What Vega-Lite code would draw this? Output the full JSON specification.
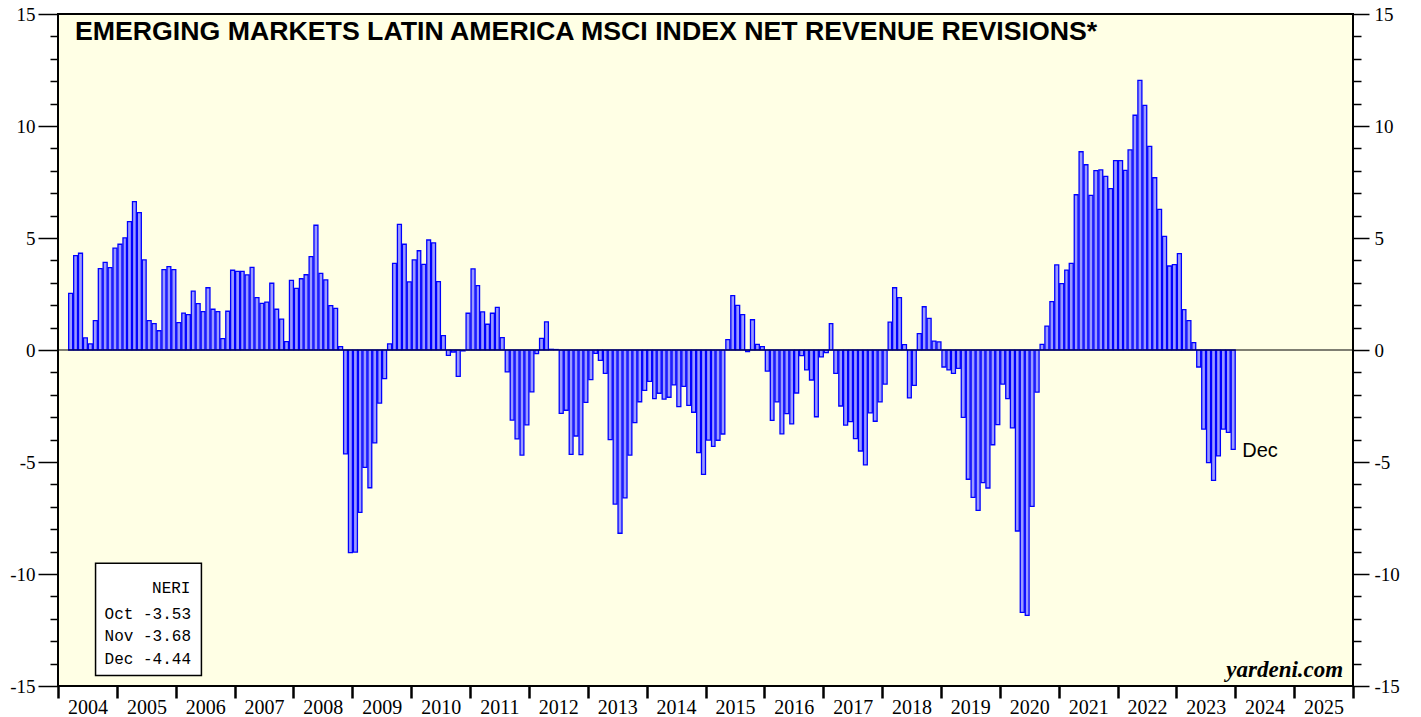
{
  "$schema": "https://vega.github.io/schema/vega-lite/v6.json",
  "width": 1295,
  "height": 672,
  "autosize": "none",
  "padding": {"left": 58, "top": 14, "right": 68, "bottom": 31},
  "background": "white",
  "config": {
    "view": {"fill": "#FFFFE5", "stroke": "black", "strokeWidth": 2},
    "axis": {"grid": false, "domain": false, "labelFont": "Liberation Serif", "labelColor": "black", "tickColor": "black", "title": null, "labelOverlap": false, "labelFlush": false}
  },
  "title": {
    "text": "EMERGING MARKETS LATIN AMERICA MSCI INDEX NET REVENUE REVISIONS*",
    "anchor": "start",
    "frame": "group",
    "orient": "top",
    "font": "Liberation Sans",
    "fontSize": 26.7,
    "fontWeight": "bold",
    "color": "black",
    "baseline": "alphabetic",
    "offset": -28,
    "dx": 17,
    "dy": 34
  },
  "data": {"values": [
    {"d":"2004-03-01","v":2.53},{"d":"2004-04-01","v":4.21},{"d":"2004-05-01","v":4.32},{"d":"2004-06-01","v":0.54},{"d":"2004-07-01","v":0.27},{"d":"2004-08-01","v":1.31},{"d":"2004-09-01","v":3.63},{"d":"2004-10-01","v":3.91},{"d":"2004-11-01","v":3.68},{"d":"2004-12-01","v":4.55},
    {"d":"2005-01-01","v":4.72},{"d":"2005-02-01","v":5.01},{"d":"2005-03-01","v":5.73},{"d":"2005-04-01","v":6.62},{"d":"2005-05-01","v":6.13},{"d":"2005-06-01","v":4.02},{"d":"2005-07-01","v":1.31},{"d":"2005-08-01","v":1.18},{"d":"2005-09-01","v":0.86},{"d":"2005-10-01","v":3.59},{"d":"2005-11-01","v":3.72},{"d":"2005-12-01","v":3.59},
    {"d":"2006-01-01","v":1.22},{"d":"2006-02-01","v":1.65},{"d":"2006-03-01","v":1.58},{"d":"2006-04-01","v":2.63},{"d":"2006-05-01","v":2.07},{"d":"2006-06-01","v":1.71},{"d":"2006-07-01","v":2.78},{"d":"2006-08-01","v":1.82},{"d":"2006-09-01","v":1.71},{"d":"2006-10-01","v":0.51},{"d":"2006-11-01","v":1.73},{"d":"2006-12-01","v":3.56},
    {"d":"2007-01-01","v":3.51},{"d":"2007-02-01","v":3.51},{"d":"2007-03-01","v":3.35},{"d":"2007-04-01","v":3.69},{"d":"2007-05-01","v":2.34},{"d":"2007-06-01","v":2.08},{"d":"2007-07-01","v":2.14},{"d":"2007-08-01","v":2.98},{"d":"2007-09-01","v":1.82},{"d":"2007-10-01","v":1.38},{"d":"2007-11-01","v":0.37},{"d":"2007-12-01","v":3.11},
    {"d":"2008-01-01","v":2.75},{"d":"2008-02-01","v":3.18},{"d":"2008-03-01","v":3.36},{"d":"2008-04-01","v":4.17},{"d":"2008-05-01","v":5.57},{"d":"2008-06-01","v":3.42},{"d":"2008-07-01","v":3.13},{"d":"2008-08-01","v":1.98},{"d":"2008-09-01","v":1.86},{"d":"2008-10-01","v":0.15},{"d":"2008-11-01","v":-4.64},{"d":"2008-12-01","v":-9.05},
    {"d":"2009-01-01","v":-9.02},{"d":"2009-02-01","v":-7.25},{"d":"2009-03-01","v":-5.24},{"d":"2009-04-01","v":-6.15},{"d":"2009-05-01","v":-4.15},{"d":"2009-06-01","v":-2.37},{"d":"2009-07-01","v":-1.28},{"d":"2009-08-01","v":0.27},{"d":"2009-09-01","v":3.87},{"d":"2009-10-01","v":5.61},{"d":"2009-11-01","v":4.72},{"d":"2009-12-01","v":3.04},
    {"d":"2010-01-01","v":4.02},{"d":"2010-02-01","v":4.43},{"d":"2010-03-01","v":3.82},{"d":"2010-04-01","v":4.91},{"d":"2010-05-01","v":4.78},{"d":"2010-06-01","v":3.05},{"d":"2010-07-01","v":0.64},{"d":"2010-08-01","v":-0.24},{"d":"2010-09-01","v":-0.09},{"d":"2010-10-01","v":-1.18},{"d":"2010-11-01","v":-0.04},{"d":"2010-12-01","v":1.64},
    {"d":"2011-01-01","v":3.62},{"d":"2011-02-01","v":2.87},{"d":"2011-03-01","v":1.70},{"d":"2011-04-01","v":1.15},{"d":"2011-05-01","v":1.64},{"d":"2011-06-01","v":1.90},{"d":"2011-07-01","v":0.55},{"d":"2011-08-01","v":-0.98},{"d":"2011-09-01","v":-3.13},{"d":"2011-10-01","v":-3.97},{"d":"2011-11-01","v":-4.69},{"d":"2011-12-01","v":-3.34},
    {"d":"2012-01-01","v":-1.87},{"d":"2012-02-01","v":-0.16},{"d":"2012-03-01","v":0.52},{"d":"2012-04-01","v":1.26},{"d":"2012-05-01","v":0.03},{"d":"2012-06-01","v":0.02},{"d":"2012-07-01","v":-2.83},{"d":"2012-08-01","v":-2.69},{"d":"2012-09-01","v":-4.66},{"d":"2012-10-01","v":-3.84},{"d":"2012-11-01","v":-4.67},{"d":"2012-12-01","v":-2.34},
    {"d":"2013-01-01","v":-1.32},{"d":"2013-02-01","v":-0.15},{"d":"2013-03-01","v":-0.46},{"d":"2013-04-01","v":-1.04},{"d":"2013-05-01","v":-4.00},{"d":"2013-06-01","v":-6.88},{"d":"2013-07-01","v":-8.18},{"d":"2013-08-01","v":-6.60},{"d":"2013-09-01","v":-4.69},{"d":"2013-10-01","v":-3.24},{"d":"2013-11-01","v":-2.31},{"d":"2013-12-01","v":-1.80},
    {"d":"2014-01-01","v":-1.40},{"d":"2014-02-01","v":-2.17},{"d":"2014-03-01","v":-1.93},{"d":"2014-04-01","v":-2.19},{"d":"2014-05-01","v":-2.11},{"d":"2014-06-01","v":-1.56},{"d":"2014-07-01","v":-2.53},{"d":"2014-08-01","v":-1.62},{"d":"2014-09-01","v":-2.47},{"d":"2014-10-01","v":-2.78},{"d":"2014-11-01","v":-4.58},{"d":"2014-12-01","v":-5.55},
    {"d":"2015-01-01","v":-4.02},{"d":"2015-02-01","v":-4.30},{"d":"2015-03-01","v":-4.03},{"d":"2015-04-01","v":-3.75},{"d":"2015-05-01","v":0.46},{"d":"2015-06-01","v":2.43},{"d":"2015-07-01","v":1.99},{"d":"2015-08-01","v":1.58},{"d":"2015-09-01","v":-0.07},{"d":"2015-10-01","v":1.35},{"d":"2015-11-01","v":0.25},{"d":"2015-12-01","v":0.15},
    {"d":"2016-01-01","v":-0.94},{"d":"2016-02-01","v":-3.14},{"d":"2016-03-01","v":-2.32},{"d":"2016-04-01","v":-3.74},{"d":"2016-05-01","v":-2.84},{"d":"2016-06-01","v":-3.30},{"d":"2016-07-01","v":-1.92},{"d":"2016-08-01","v":-0.25},{"d":"2016-09-01","v":-0.89},{"d":"2016-10-01","v":-1.34},{"d":"2016-11-01","v":-2.98},{"d":"2016-12-01","v":-0.31},
    {"d":"2017-01-01","v":-0.12},{"d":"2017-02-01","v":1.18},{"d":"2017-03-01","v":-1.04},{"d":"2017-04-01","v":-2.50},{"d":"2017-05-01","v":-3.35},{"d":"2017-06-01","v":-3.20},{"d":"2017-07-01","v":-3.96},{"d":"2017-08-01","v":-4.51},{"d":"2017-09-01","v":-5.13},{"d":"2017-10-01","v":-2.81},{"d":"2017-11-01","v":-3.18},{"d":"2017-12-01","v":-2.32},
    {"d":"2018-01-01","v":-1.52},{"d":"2018-02-01","v":1.24},{"d":"2018-03-01","v":2.78},{"d":"2018-04-01","v":2.34},{"d":"2018-05-01","v":0.24},{"d":"2018-06-01","v":-2.14},{"d":"2018-07-01","v":-1.58},{"d":"2018-08-01","v":0.73},{"d":"2018-09-01","v":1.93},{"d":"2018-10-01","v":1.41},{"d":"2018-11-01","v":0.40},{"d":"2018-12-01","v":0.36},
    {"d":"2019-01-01","v":-0.76},{"d":"2019-02-01","v":-0.89},{"d":"2019-03-01","v":-1.04},{"d":"2019-04-01","v":-0.82},{"d":"2019-05-01","v":-3.01},{"d":"2019-06-01","v":-5.77},{"d":"2019-07-01","v":-6.58},{"d":"2019-08-01","v":-7.16},{"d":"2019-09-01","v":-5.92},{"d":"2019-10-01","v":-6.16},{"d":"2019-11-01","v":-4.23},{"d":"2019-12-01","v":-3.33},
    {"d":"2020-01-01","v":-1.52},{"d":"2020-02-01","v":-2.17},{"d":"2020-03-01","v":-3.48},{"d":"2020-04-01","v":-8.08},{"d":"2020-05-01","v":-11.71},{"d":"2020-06-01","v":-11.85},{"d":"2020-07-01","v":-6.98},{"d":"2020-08-01","v":-1.88},{"d":"2020-09-01","v":0.25},{"d":"2020-10-01","v":1.07},{"d":"2020-11-01","v":2.16},{"d":"2020-12-01","v":3.80},
    {"d":"2021-01-01","v":2.96},{"d":"2021-02-01","v":3.57},{"d":"2021-03-01","v":3.87},{"d":"2021-04-01","v":6.93},{"d":"2021-05-01","v":8.85},{"d":"2021-06-01","v":8.27},{"d":"2021-07-01","v":6.90},{"d":"2021-08-01","v":8.01},{"d":"2021-09-01","v":8.04},{"d":"2021-10-01","v":7.75},{"d":"2021-11-01","v":7.20},{"d":"2021-12-01","v":8.45},
    {"d":"2022-01-01","v":8.45},{"d":"2022-02-01","v":8.02},{"d":"2022-03-01","v":8.93},{"d":"2022-04-01","v":10.48},{"d":"2022-05-01","v":12.04},{"d":"2022-06-01","v":10.92},{"d":"2022-07-01","v":9.09},{"d":"2022-08-01","v":7.69},{"d":"2022-09-01","v":6.28},{"d":"2022-10-01","v":5.07},{"d":"2022-11-01","v":3.75},{"d":"2022-12-01","v":3.81},
    {"d":"2023-01-01","v":4.30},{"d":"2023-02-01","v":1.80},{"d":"2023-03-01","v":1.31},{"d":"2023-04-01","v":0.33},{"d":"2023-05-01","v":-0.76},{"d":"2023-06-01","v":-3.53},{"d":"2023-07-01","v":-5.03},{"d":"2023-08-01","v":-5.82},{"d":"2023-09-01","v":-4.73},{"d":"2023-10-01","v":-3.53},{"d":"2023-11-01","v":-3.68},{"d":"2023-12-01","v":-4.44}
  ]},
  "layer": [
    {
      "mark": {"type": "bar", "fill": "#9A9AFF", "stroke": "#0000FF", "strokeWidth": 1.3, "timeUnitBandSize": 1, "timeUnitBandPosition": 0},
      "encoding": {
        "x": {
          "field": "d", "timeUnit": "utcyearmonth", "type": "temporal",
          "scale": {"type": "utc", "domain": [{"year": 2004, "month": 1, "date": 1, "utc": true}, {"year": 2026, "month": 1, "date": 1, "utc": true}]},
          "axis": {
            "orient": "bottom",
            "values": [
              {"year": 2004, "month": 1, "date": 1, "utc": true},{"year": 2005, "month": 1, "date": 1, "utc": true},{"year": 2006, "month": 1, "date": 1, "utc": true},{"year": 2007, "month": 1, "date": 1, "utc": true},{"year": 2008, "month": 1, "date": 1, "utc": true},{"year": 2009, "month": 1, "date": 1, "utc": true},{"year": 2010, "month": 1, "date": 1, "utc": true},{"year": 2011, "month": 1, "date": 1, "utc": true},{"year": 2012, "month": 1, "date": 1, "utc": true},{"year": 2013, "month": 1, "date": 1, "utc": true},{"year": 2014, "month": 1, "date": 1, "utc": true},{"year": 2015, "month": 1, "date": 1, "utc": true},{"year": 2016, "month": 1, "date": 1, "utc": true},{"year": 2017, "month": 1, "date": 1, "utc": true},{"year": 2018, "month": 1, "date": 1, "utc": true},{"year": 2019, "month": 1, "date": 1, "utc": true},{"year": 2020, "month": 1, "date": 1, "utc": true},{"year": 2021, "month": 1, "date": 1, "utc": true},{"year": 2022, "month": 1, "date": 1, "utc": true},{"year": 2023, "month": 1, "date": 1, "utc": true},{"year": 2024, "month": 1, "date": 1, "utc": true},{"year": 2025, "month": 1, "date": 1, "utc": true},{"year": 2026, "month": 1, "date": 1, "utc": true}
            ],
            "labelExpr": "utcyear(datum.value) > 2025 ? '' : '' + utcyear(datum.value)",
            "labelOffset": 29.4,
            "labelAlign": "center",
            "labelBound": false,
            "labelFontSize": 20,
            "labelPadding": -1,
            "tickSize": 12,
            "tickWidth": 2.5
          }
        },
        "y": {
          "field": "v", "type": "quantitative",
          "scale": {"domain": [-15, 15], "nice": false, "zero": false},
          "axis": {
            "orient": "left",
            "values": [-15,-14,-13,-12,-11,-10,-9,-8,-7,-6,-5,-4,-3,-2,-1,0,1,2,3,4,5,6,7,8,9,10,11,12,13,14,15],
            "labelExpr": "datum.value % 5 == 0 ? '' + datum.value : ''",
            "tickSize": {"condition": {"test": "datum.value % 5 == 0", "value": 20}, "value": 8},
            "tickWidth": 1.5,
            "labelFontSize": 19,
            "labelPadding": 3,
            "labelOverlap": false
          }
        }
      }
    },
    {
      "transform": [{"filter": "utcyear(datum.d) == 2023 && utcmonth(datum.d) == 11"}],
      "mark": {"type": "text", "font": "Liberation Sans", "fontSize": 20, "color": "black", "align": "left", "baseline": "alphabetic", "dx": 12, "dy": 8},
      "encoding": {
        "x": {"field": "d", "type": "temporal"},
        "y": {"field": "v", "type": "quantitative", "scale": {"domain": [-15, 15], "nice": false, "zero": false}, "axis": null},
        "text": {"value": "Dec"}
      }
    },
    {
      "data": {"values": [{}]},
      "mark": {"type": "rect", "fill": "white", "stroke": "black", "strokeWidth": 1.5},
      "encoding": {
        "x": {"datum": {"year": 2004, "month": 8, "date": 21, "utc": true}, "type": "temporal"},
        "x2": {"datum": {"year": 2006, "month": 6, "date": 9, "utc": true}},
        "y": {"datum": -9.52, "type": "quantitative", "scale": {"domain": [-15, 15], "nice": false, "zero": false}, "axis": null},
        "y2": {"datum": -14.53}
      }
    },
    {
      "data": {"values": [{}]},
      "mark": {"type": "text", "font": "Liberation Mono", "fontSize": 16, "color": "black", "align": "right", "baseline": "alphabetic"},
      "encoding": {
        "x": {"datum": {"year": 2006, "month": 4, "date": 2, "utc": true}, "type": "temporal"},
        "y": {"datum": -10.83, "type": "quantitative", "scale": {"domain": [-15, 15], "nice": false, "zero": false}, "axis": null},
        "text": {"value": "NERI"}
      }
    },
    {
      "data": {"values": [{}]},
      "mark": {"type": "text", "font": "Liberation Mono", "fontSize": 16, "color": "black", "align": "left", "baseline": "alphabetic", "lineHeight": 22.5},
      "encoding": {
        "x": {"datum": {"year": 2004, "month": 10, "date": 16, "utc": true}, "type": "temporal"},
        "y": {"datum": -11.99, "type": "quantitative", "scale": {"domain": [-15, 15], "nice": false, "zero": false}, "axis": null},
        "text": {"value": ["Oct -3.53", "Nov -3.68", "Dec -4.44"]}
      }
    },
    {
      "data": {"values": [{}]},
      "mark": {"type": "text", "font": "Liberation Serif", "fontSize": 23, "fontWeight": "bold", "fontStyle": "italic", "color": "black", "align": "right", "baseline": "alphabetic"},
      "encoding": {
        "x": {"datum": {"year": 2025, "month": 11, "date": 1, "utc": true}, "type": "temporal"},
        "y": {"datum": -14.6, "type": "quantitative", "scale": {"domain": [-15, 15], "nice": false, "zero": false}, "axis": null},
        "text": {"value": "yardeni.com"}
      }
    },
    {
      "data": {"values": [{}]},
      "mark": {"type": "rule", "color": "black", "strokeWidth": 1.2},
      "encoding": {
        "y": {
          "datum": 0, "type": "quantitative",
          "scale": {"domain": [-15, 15], "nice": false, "zero": false},
          "axis": {
            "orient": "right",
            "values": [-15,-14,-13,-12,-11,-10,-9,-8,-7,-6,-5,-4,-3,-2,-1,0,1,2,3,4,5,6,7,8,9,10,11,12,13,14,15],
            "labelExpr": "datum.value % 5 == 0 ? '' + datum.value : ''",
            "tickSize": {"condition": {"test": "datum.value % 5 == 0", "value": 16}, "value": 8},
            "tickWidth": 1.5,
            "labelFontSize": 19,
            "labelPadding": 5,
            "labelOverlap": false
          }
        }
      }
    }
  ],
  "resolve": {"scale": {"y": "independent"}}
}
